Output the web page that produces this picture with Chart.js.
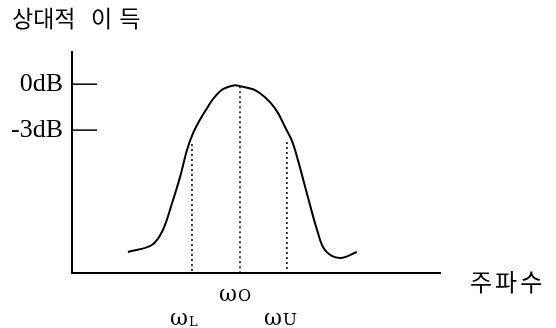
<!DOCTYPE html>
<html>
<head>
<meta charset="utf-8">
<script src="https://cdn.jsdelivr.net/npm/chart.js@4/dist/chart.umd.min.js"></script>
<style>
  html, body { margin: 0; padding: 0; background: #fff; }
  #wrap { width: 556px; height: 328px; }
</style>
</head>
<body>
<div id="wrap"><canvas id="gainChart" width="556" height="328"></canvas></div>
<script>
// frequency (arbitrary units) vs relative gain (dB)
const freq = [15.2, 21.7, 24.7, 27.2, 29.35, 31.25, 32.9, 34.8, 36.7, 38.3, 41.0, 44.3, 45.65, 49.2, 51.1, 53.8, 56.0, 57.9, 59.8, 61.4, 64.1, 66.6, 68.75, 72.8, 77.4];
const gain = [-10.96, -10.5, -9.52, -7.76, -6.07, -4.3, -3.2, -2.3, -1.57, -0.98, -0.33, -0.07, -0.13, -0.33, -0.59, -1.17, -1.89, -2.8, -3.72, -4.96, -7.37, -9.52, -10.83, -11.35, -10.96];

// ωL, ωO, ωU marker lines
const markerNames = ['L', 'O', 'U'];
const markerFreqs = [32.6, 45.65, 58.4];
const markerGains = [-3.9, -0.13, -3.78];

const yTicks = [0, -3];
const yTickLabels = ['0dB', '-3dB'];
const xTitle = '주파수';
const yTitle = '상대적 이득';

const Y_MIN = -12.33, Y_MAX = 2.1;

const datasets = [{
    data: freq.map((f, i) => ({ x: f, y: gain[i] })),
    borderColor: '#000',
    borderWidth: 2,
    pointRadius: 0,
    tension: 0.35,
    fill: false
}];
markerFreqs.forEach((f, i) => {
    datasets.push({
        data: [{ x: f, y: markerGains[i] }, { x: f, y: Y_MIN }],
        borderColor: '#000',
        borderWidth: 1.5,
        borderDash: [2, 3],
        pointRadius: 0,
        fill: false
    });
});

// omega label placement: pixel offset from the marker line, baseline, subscript font
const omegaStyle = {
    dx: [-22, -21, -23],
    baseline: [325, 301, 325],
    subSize: [13, 16, 17],
    subDrop: [1, 0, 0]
};

// draw a word one glyph at a time with extra spacing
function spacedWord(ctx, word, x, y, gap) {
    let cx = x;
    for (const ch of word) {
        ctx.fillText(ch, cx, y);
        cx += ctx.measureText(ch).width + gap;
    }
}

const extras = {
    id: 'extras',
    afterDraw(chart) {
        const { ctx, chartArea, scales: { x, y } } = chart;
        ctx.save();
        // inward tick marks on the y axis
        ctx.strokeStyle = '#000';
        ctx.lineWidth = 1.5;
        yTicks.forEach(v => {
            const py = y.getPixelForValue(v);
            ctx.beginPath();
            ctx.moveTo(chartArea.left, py);
            ctx.lineTo(chartArea.left + 25, py);
            ctx.stroke();
        });

        ctx.fillStyle = '#000';
        ctx.textAlign = 'left';
        ctx.textBaseline = 'middle';
        ctx.font = '23px "Noto Sans CJK KR"';
        const titleWords = yTitle.split(' ');
        spacedWord(ctx, titleWords[0], 12, 18, 0);
        spacedWord(ctx, titleWords[1], 91, 18, 7);
        ctx.font = '24px "Noto Sans CJK KR"';
        spacedWord(ctx, xTitle, 470, 282, 3);

        // ω labels under the axis
        ctx.textBaseline = 'alphabetic';
        markerNames.forEach((name, i) => {
            const px = x.getPixelForValue(markerFreqs[i]) + omegaStyle.dx[i];
            const base = omegaStyle.baseline[i];
            ctx.font = '22px "DejaVu Serif"';
            ctx.fillText('ω', px, base);
            const w = ctx.measureText('ω').width;
            ctx.font = omegaStyle.subSize[i] + 'px "DejaVu Serif"';
            ctx.fillText(name, px + w + 1, base + omegaStyle.subDrop[i]);
        });
        ctx.restore();
    }
};

new Chart(document.getElementById('gainChart'), {
    type: 'line',
    data: { datasets },
    options: {
        responsive: false,
        animation: false,
        layout: { padding: { left: 0, top: 52, right: 116, bottom: 0 } },
        plugins: {
            legend: { display: false },
            tooltip: { enabled: false }
        },
        scales: {
            x: {
                type: 'linear',
                min: 0,
                max: 100,
                grid: { display: false, drawTicks: false },
                ticks: { display: false },
                border: { display: true, color: '#000', width: 2 },
                afterFit: s => { s.height = 55; }
            },
            y: {
                type: 'linear',
                min: Y_MIN,
                max: Y_MAX,
                grid: { display: false, drawTicks: false },
                border: { display: true, color: '#000', width: 2 },
                afterBuildTicks: s => { s.ticks = yTicks.map(v => ({ value: v })); },
                ticks: {
                    padding: 9,
                    color: '#000',
                    font: { family: '"Liberation Serif"', size: 26 },
                    callback: v => yTickLabels[yTicks.indexOf(v)]
                },
                afterFit: s => { s.width = 72; }
            }
        }
    },
    plugins: [extras]
});
</script>
</body>
</html>
